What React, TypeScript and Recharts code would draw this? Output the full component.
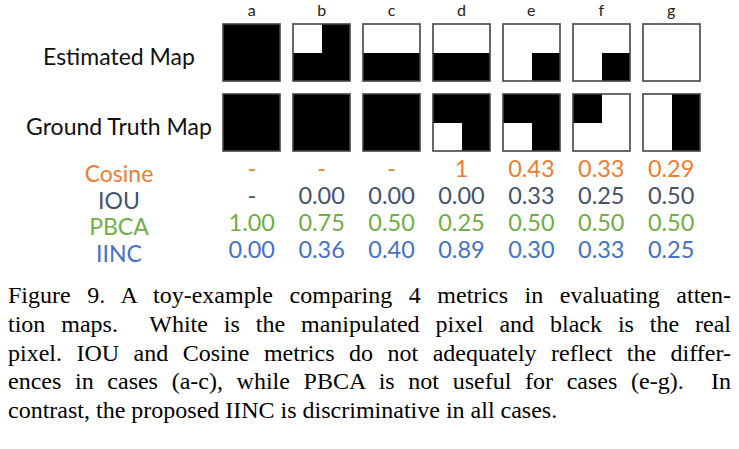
import { ScatterChart, Scatter, XAxis, YAxis } from 'recharts';

const LETTERS = ['a', 'b', 'c', 'd', 'e', 'f', 'g'];
const MAP_ROWS = ['Estimated Map', 'Ground Truth Map'];
// quadrants: [top-left, top-right, bottom-left, bottom-right], 1 = black (real), 0 = white (manipulated)
const ESTIMATED = [[1, 1, 1, 1], [0, 1, 1, 1], [0, 0, 1, 1], [0, 0, 1, 1], [0, 0, 0, 1], [0, 0, 0, 1], [0, 0, 0, 0]];
const GROUND_TRUTH = [[1, 1, 1, 1], [1, 1, 1, 1], [1, 1, 1, 1], [1, 1, 0, 1], [1, 1, 0, 1], [1, 0, 0, 0], [0, 1, 0, 1]];

const METRICS = ['Cosine', 'IOU', 'PBCA', 'IINC'];
const METRIC_COLORS = ['#ED7D31', '#44546A', '#70AD47', '#4472C4'];
const COSINE = [null, null, null, 1, 0.43, 0.33, 0.29];
const IOU = [null, 0, 0, 0, 0.33, 0.25, 0.5];
const PBCA = [1, 0.75, 0.5, 0.25, 0.5, 0.5, 0.5];
const IINC = [0, 0.36, 0.4, 0.89, 0.3, 0.33, 0.25];

const CAPTION = [
  'Figure 9. A toy-example comparing 4 metrics in evaluating atten-',
  'tion maps.  White is the manipulated pixel and black is the real',
  'pixel. IOU and Cosine metrics do not adequately reflect the differ-',
  'ences in cases (a-c), while PBCA is not useful for cases (e-g).  In',
  'contrast, the proposed IINC is discriminative in all cases.',
];

const FONT = 'Lato, "Open Sans", sans-serif';
const W = 739;
const AXIS_W = 216.8;
const PLOT_W = 489.3;
const LABEL_X = 119;
const SQ = 57;

const mapData = (grids: number[][], row: number) =>
  grids.map((grid, i) => ({ x: i, y: row, grid }));

const metricData = (vals: (number | null)[], row: number, fmt: (v: number) => string) =>
  vals.map((v, i) => ({ x: i, y: row, text: v === null ? '-' : fmt(v) }));

const fixed2 = (v: number) => v.toFixed(2);

function MapShape(props: any) {
  const { cx, cy, payload } = props;
  const h = SQ / 2;
  const x0 = Math.round(cx - h);
  const y0 = Math.round(cy - h);
  return (
    <g>
      <rect x={x0} y={y0} width={SQ} height={SQ} fill="#fff" />
      {payload.grid.map((v: number, q: number) =>
        v ? (
          <rect
            key={q}
            x={x0 + (q % 2) * h}
            y={y0 + Math.floor(q / 2) * h}
            width={h}
            height={h}
            fill="#000"
            shapeRendering="crispEdges"
          />
        ) : null
      )}
      <rect x={x0} y={y0} width={SQ} height={SQ} fill="none" stroke="#444" strokeWidth={1.6} />
    </g>
  );
}

const valueShape = (color: string) => (props: any) => (
  <text x={props.cx} y={props.cy} textAnchor="middle" dominantBaseline="central" fill={color} fontFamily={FONT} fontSize={23.5}>
    {props.payload.text}
  </text>
);

function RowLabel(props: any) {
  const { y, payload, labels, colors, dy } = props;
  const i = payload.value;
  return (
    <text x={LABEL_X} y={y + dy} textAnchor="middle" dominantBaseline="central" fill={colors ? colors[i] : '#111'} fontFamily={FONT} fontSize={23}>
      {labels[i]}
    </text>
  );
}

export default function App() {
  return (
    <div style={{ position: 'fixed', left: 0, top: 0, width: W, height: 449, background: '#fff' }}>
      <div style={{ position: 'absolute', left: 0, top: 0 }}>
        <ScatterChart width={W} height={158} margin={{ top: 0, right: W - AXIS_W - PLOT_W, bottom: 0, left: 0 }}>
          <XAxis
            type="number"
            dataKey="x"
            orientation="top"
            domain={[-0.5, 6.5]}
            ticks={[0, 1, 2, 3, 4, 5, 6]}
            tickFormatter={(i: number) => LETTERS[i]}
            height={17.5}
            axisLine={false}
            tickLine={false}
            tickSize={0}
            tickMargin={2}
            tick={{ fill: '#222', fontFamily: FONT, fontSize: 16 }}
          />
          <YAxis
            type="number"
            dataKey="y"
            domain={[-0.5, 1.5]}
            reversed
            ticks={[0, 1]}
            width={AXIS_W}
            axisLine={false}
            tickLine={false}
            tick={<RowLabel labels={MAP_ROWS} dy={3} />}
          />
          <Scatter data={mapData(ESTIMATED, 0)} shape={MapShape} isAnimationActive={false} />
          <Scatter data={mapData(GROUND_TRUTH, 1)} shape={MapShape} isAnimationActive={false} />
        </ScatterChart>
      </div>
      <div style={{ position: 'absolute', left: 0, top: 155 }}>
        <ScatterChart width={W} height={122} margin={{ top: 0, right: W - AXIS_W - PLOT_W, bottom: 15, left: 0 }}>
          <XAxis type="number" dataKey="x" domain={[-0.5, 6.5]} hide />
          <YAxis
            type="number"
            dataKey="y"
            domain={[-0.5, 3.5]}
            reversed
            ticks={[0, 1, 2, 3]}
            width={AXIS_W}
            axisLine={false}
            tickLine={false}
            tick={<RowLabel labels={METRICS} colors={METRIC_COLORS} dy={4.5} />}
          />
          <Scatter data={metricData(COSINE, 0, (v) => String(v))} shape={valueShape(METRIC_COLORS[0])} isAnimationActive={false} />
          <Scatter data={metricData(IOU, 1, fixed2)} shape={valueShape(METRIC_COLORS[1])} isAnimationActive={false} />
          <Scatter data={metricData(PBCA, 2, fixed2)} shape={valueShape(METRIC_COLORS[2])} isAnimationActive={false} />
          <Scatter data={metricData(IINC, 3, fixed2)} shape={valueShape(METRIC_COLORS[3])} isAnimationActive={false} />
        </ScatterChart>
      </div>
      <div
        style={{
          position: 'absolute',
          left: 8,
          top: 281,
          width: 723,
          fontFamily: '"Liberation Serif", "Times New Roman", serif',
          fontSize: 24,
          lineHeight: '28.8px',
          color: '#000',
        }}
      >
        {CAPTION.map((line, i) => (
          <div key={i} style={{ whiteSpace: 'pre', textAlign: 'justify', textAlignLast: i < CAPTION.length - 1 ? 'justify' : 'left' }}>
            {line}
          </div>
        ))}
      </div>
    </div>
  );
}
